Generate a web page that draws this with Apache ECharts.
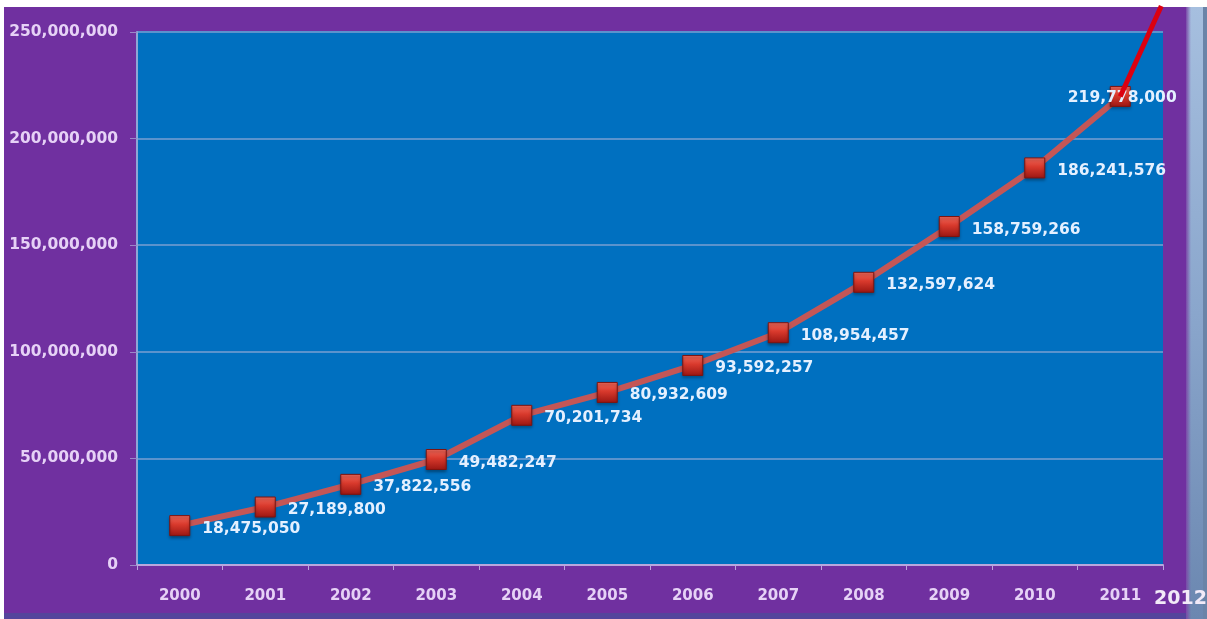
<!DOCTYPE html>
<html>
<head>
<meta charset="utf-8">
<script src="https://cdn.jsdelivr.net/npm/echarts@6/dist/echarts.min.js"></script>
<style>
html,body{margin:0;padding:0;background:#fff;}
#chart{width:1207px;height:619px;}
</style>
</head>
<body>
<div id="chart"></div>
<script>
const years = ['2000','2001','2002','2003','2004','2005','2006','2007','2008','2009','2010','2011'];
const users = [18475050, 27189800, 37822556, 49482247, 70201734, 80932609, 93592257, 108954457, 132597624, 158759266, 186241576, 219778000];
const trendX = [11, 11.48];
const trendY = [219778000, 262200000];
const extraYearLabel = '2012';
const yTicks = {min: 0, max: 250000000, interval: 50000000};

function fmt(v){ return Math.round(v).toString().replace(/\B(?=(\d{3})+(?!\d))/g, ','); }

const chart = echarts.init(document.getElementById('chart'), null, {renderer: 'canvas'});
const markerFill = new echarts.graphic.LinearGradient(0, 0, 0, 1, [
  {offset: 0, color: '#f26a5c'},
  {offset: 0.45, color: '#d8392c'},
  {offset: 1, color: '#9a1612'}
]);
const font = 'DejaVu Sans';

const option = {
  backgroundColor: '#ffffff',
  animation: false,
  graphic: [
    {type: 'rect', z: -100, shape: {x: 4, y: 7, width: 1182, height: 606}, style: {fill: '#7030a0'}},
    {type: 'rect', z: -100, shape: {x: 4, y: 613, width: 1182, height: 6}, style: {fill: '#55449c'}},
    {type: 'rect', z: -100, shape: {x: 1186, y: 7, width: 17, height: 612},
      style: {fill: new echarts.graphic.LinearGradient(0, 0, 0, 1, [
        {offset: 0, color: '#a6bfdf'}, {offset: 0.5, color: '#8aa6cc'}, {offset: 1, color: '#6b87b0'}])}},
    {type: 'rect', z: -100, shape: {x: 1186, y: 7, width: 5, height: 612},
      style: {fill: new echarts.graphic.LinearGradient(0, 0, 1, 0, [
        {offset: 0, color: '#7a4aa8'}, {offset: 1, color: 'rgba(122,74,168,0)'}])}},
    {type: 'rect', z: -100, shape: {x: 1203, y: 7, width: 4, height: 612}, style: {fill: '#6a84a8'}},
    {type: 'text', z: 100, left: 1154, top: 590,
      style: {text: extraYearLabel, fill: '#f2eaf8', font: '600 19px "DejaVu Sans"'}}
  ],
  grid: {left: 137, top: 32, right: 44, bottom: 54, show: true, backgroundColor: '#0070c0', borderWidth: 0},
  xAxis: [
    {
      type: 'category', data: years, boundaryGap: true,
      axisLine: {lineStyle: {color: '#b9a6dc', width: 2}},
      axisTick: {show: true, alignWithLabel: false, length: 5, lineStyle: {color: '#b9a6dc', width: 1}},
      axisLabel: {color: '#e6d2f6', fontFamily: font, fontWeight: 'bold', fontSize: 15, margin: 24}
    },
    {type: 'value', min: -0.5, max: 11.5, show: false, splitLine: {show: false}, axisLine: {show: false, onZero: false}, axisTick: {show: false}, axisLabel: {show: false}}
  ],
  yAxis: {
    type: 'value', min: yTicks.min, max: yTicks.max, interval: yTicks.interval,
    axisLine: {show: true, onZero: false, lineStyle: {color: '#8fa6d6', width: 2}},
    axisTick: {show: true, length: 7, lineStyle: {color: '#9a88c8', width: 1}},
    axisLabel: {color: '#e6d2f6', fontFamily: font, fontWeight: 'bold', fontSize: 15.5, margin: 19, formatter: fmt},
    splitLine: {show: true, lineStyle: {color: '#5a93cd', width: 2}}
  },
  series: [
    {
      type: 'line', xAxisIndex: 0, data: users.map((v, i) => i === users.length - 1 ?
        {value: v, label: {position: 'inside', offset: [2, 2]}} : v),
      z: 3,
      lineStyle: {color: '#c45656', width: 6},
      symbol: 'rect', symbolSize: 20,
      itemStyle: {color: markerFill, borderColor: '#7d1410', borderWidth: 1, shadowColor: 'rgba(0,0,0,0.35)', shadowBlur: 3, shadowOffsetY: 2},
      label: {
        show: true, position: 'right', distance: 12, offset: [0, 3],
        color: '#e4f0ff', fontFamily: font, fontWeight: 'bold', fontSize: 15.5,
        formatter: p => fmt(p.value)
      }
    },
    {
      type: 'line', xAxisIndex: 1, z: 5, clip: false,
      data: trendX.map((x, i) => [x, trendY[i]]),
      symbol: 'none',
      lineStyle: {color: '#dc0010', width: 5}
    }
  ]
};
chart.setOption(option);
</script>
</body>
</html>
